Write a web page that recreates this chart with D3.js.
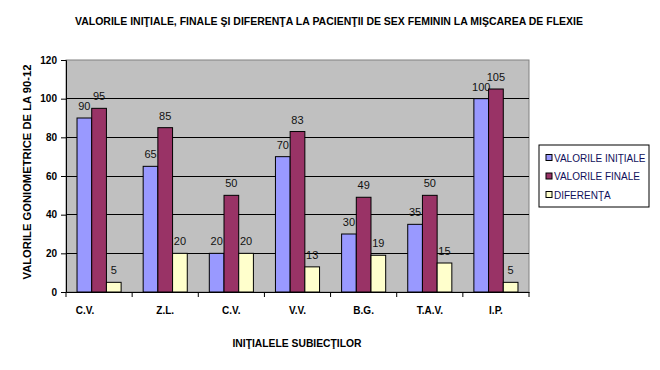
<!DOCTYPE html>
<html>
<head>
<meta charset="utf-8">
<script src="https://cdn.jsdelivr.net/npm/d3@7"></script>
<style>
  body { margin: 0; background: #fff; }
  text { font-family: "Liberation Sans", Arial, sans-serif; }
</style>
</head>
<body>
<svg width="660" height="370"></svg>
<script>
var subjects = ['C.V.', 'Z.L.', 'C.V.', 'V.V.', 'B.G.', 'T.A.V.', 'I.P.'];
var initiale = [90, 65, 20, 70, 30, 35, 100];
var finale = [95, 85, 50, 83, 49, 50, 105];
var diferenta = [5, 20, 20, 13, 19, 15, 5];
var seriesNames = ['VALORILE INIŢIALE', 'VALORILE FINALE', 'DIFERENŢA'];
var yTicks = [0, 20, 40, 60, 80, 100, 120];

var colors = ['#9999ff', '#993366', '#ffffcc'];
var series = [initiale, finale, diferenta];

var svg = d3.select('svg');
var margin = { left: 66, top: 60, right: 131, bottom: 78 };
var width = 660 - margin.left - margin.right;
var height = 370 - margin.top - margin.bottom;

var g = svg.append('g')
  .attr('transform', 'translate(' + margin.left + ',' + margin.top + ')');

var x0 = d3.scaleBand().domain(d3.range(subjects.length)).range([0, width]);
var x1 = d3.scaleBand().domain([0, 1, 2])
  .range([0, x0.bandwidth()]).paddingOuter(0.75).paddingInner(0);
var y = d3.scaleLinear().domain([0, 120]).range([height, 0]);

// plot background
g.append('rect')
  .attr('width', width).attr('height', height)
  .attr('fill', '#c0c0c0').attr('stroke', '#808080');

// gridlines
g.selectAll('.grid').data(yTicks.slice(1, -1)).enter().append('line')
  .attr('x1', 0).attr('x2', width)
  .attr('y1', function(d) { return y(d); })
  .attr('y2', function(d) { return y(d); })
  .attr('stroke', '#000').attr('shape-rendering', 'crispEdges');

// bars
var groups = g.selectAll('.grp').data(subjects).enter().append('g')
  .attr('transform', function(d, i) { return 'translate(' + x0(i) + ',0)'; });

groups.each(function(d, i) {
  var grp = d3.select(this);
  series.forEach(function(s, k) {
    grp.append('rect')
      .attr('x', x1(k))
      .attr('y', y(s[i]))
      .attr('width', x1.bandwidth())
      .attr('height', height - y(s[i]))
      .attr('fill', colors[k])
      .attr('stroke', '#000')
      .attr('stroke-width', 1);
    grp.append('text')
      .attr('x', x1(k) + x1.bandwidth() / 2)
      .attr('y', y(s[i]) - 8)
      .attr('text-anchor', 'middle')
      .style('font-size', '11px')
      .attr('fill', '#111')
      .text(s[i]);
  });
});

// y axis
var yAxis = g.append('g')
  .call(d3.axisLeft(y).tickValues(yTicks).tickSize(5).tickPadding(4));
yAxis.select('.domain').attr('stroke', '#000');
yAxis.selectAll('text')
  .style('font-size', '10px').style('font-weight', 'bold').attr('fill', '#000');

// x axis with ticks at category boundaries
var xAxis = g.append('g')
  .attr('transform', 'translate(0,' + height + ')')
  .call(d3.axisBottom(x0).tickSize(0).tickPadding(15)
    .tickFormat(function(i) { return subjects[i]; }));
xAxis.select('.domain').attr('stroke', '#000');
xAxis.selectAll('text')
  .style('font-size', '10px').style('font-weight', 'bold').attr('fill', '#000')
  .attr('dx', function(d, i) { return i === 0 ? -14 : 0; });
xAxis.selectAll('.bnd').data(d3.range(subjects.length + 1)).enter().append('line')
  .attr('x1', function(d) { return d * x0.step(); })
  .attr('x2', function(d) { return d * x0.step(); })
  .attr('y1', 0).attr('y2', 5)
  .attr('stroke', '#000');

// titles
svg.append('text')
  .attr('x', 329).attr('y', 25)
  .attr('text-anchor', 'middle')
  .attr('textLength', 508).attr('lengthAdjust', 'spacingAndGlyphs')
  .style('font-size', '10px').style('font-weight', 'bold')
  .text('VALORILE INIŢIALE, FINALE ŞI DIFERENŢA LA PACIENŢII DE SEX FEMININ LA MIŞCAREA DE FLEXIE');

svg.append('text')
  .attr('transform', 'translate(31,172) rotate(-90)')
  .attr('text-anchor', 'middle')
  .attr('textLength', 215).attr('lengthAdjust', 'spacingAndGlyphs')
  .style('font-size', '10px').style('font-weight', 'bold')
  .text('VALORILE GONIOMETRICE DE LA  90-12');

svg.append('text')
  .attr('x', 297).attr('y', 347)
  .attr('text-anchor', 'middle')
  .attr('textLength', 129).attr('lengthAdjust', 'spacingAndGlyphs')
  .style('font-size', '10px').style('font-weight', 'bold')
  .text('INIŢIALELE SUBIECŢILOR');

// legend
var legend = svg.append('g').attr('transform', 'translate(539,145)');
legend.append('rect')
  .attr('width', 110).attr('height', 62)
  .attr('fill', '#fff').attr('stroke', '#000');
seriesNames.forEach(function(name, k) {
  var row = legend.append('g').attr('transform', 'translate(0,' + (12.5 + k * 18.5) + ')');
  row.append('rect')
    .attr('x', 7).attr('y', -3)
    .attr('width', 6).attr('height', 6)
    .attr('fill', colors[k]).attr('stroke', '#000');
  row.append('text')
    .attr('x', 15).attr('y', 4)
    .style('font-size', '10px').attr('fill', '#10105a')
    .text(name);
});
</script>
</body>
</html>
